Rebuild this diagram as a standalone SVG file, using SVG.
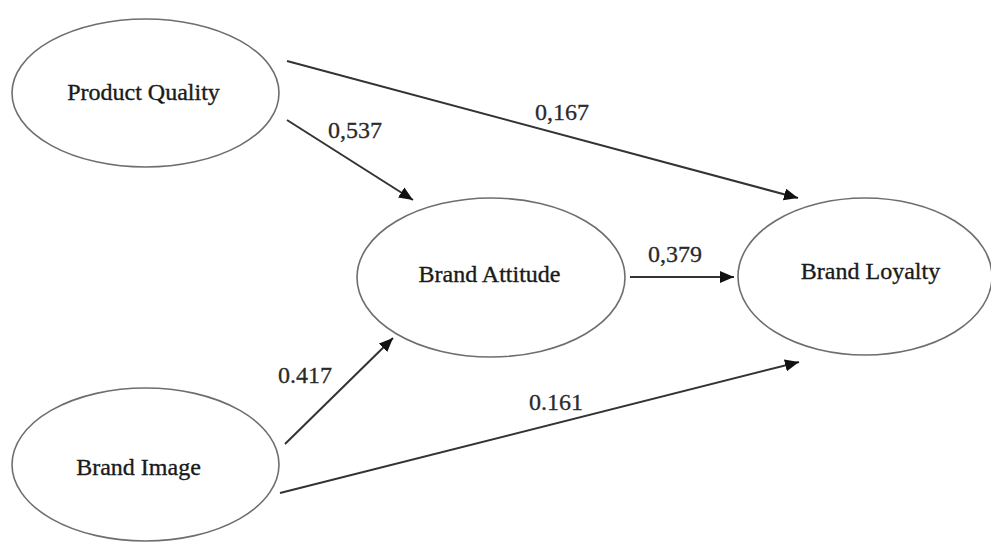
<svg xmlns="http://www.w3.org/2000/svg" width="991" height="544" viewBox="0 0 991 544">
<style>
.node ellipse{fill:#fff;stroke:#6e6e6e;stroke-width:1.6}
.node text{font-family:"Liberation Serif","Times New Roman",serif;font-size:24px;fill:#1a1a1a;stroke:#1a1a1a;stroke-width:0.35;text-anchor:middle}
.lbl{font-family:"Liberation Serif","Times New Roman",serif;font-size:24px;fill:#2a2a2a;stroke:#2a2a2a;stroke-width:0.3}
.edge{stroke:#333;stroke-width:2;fill:none;marker-end:url(#arr)}
</style>
<defs>
<marker id="arr" markerUnits="userSpaceOnUse" markerWidth="15" markerHeight="13" refX="14" refY="6" orient="auto">
<path d="M0,0 L14,6 L0,12 Z" fill="#111"/>
</marker>
</defs>
<rect width="991" height="544" fill="#fff"/>
<g id="product-quality" class="node">
<ellipse cx="145.5" cy="93" rx="133.5" ry="74"/>
<text x="143.5" y="100">Product Quality</text>
</g>
<g id="brand-attitude" class="node">
<ellipse cx="491" cy="277.5" rx="134" ry="79.5"/>
<text x="489.5" y="282">Brand Attitude</text>
</g>
<g id="brand-loyalty" class="node">
<ellipse cx="865" cy="276.5" rx="127" ry="78.5"/>
<text x="870.5" y="279">Brand Loyalty</text>
</g>
<g id="brand-image" class="node">
<ellipse cx="145.5" cy="464.5" rx="133.5" ry="76.5"/>
<text x="138.5" y="475">Brand Image</text>
</g>
<g id="connectors">
<line class="edge" x1="287" y1="61" x2="798" y2="198"/>
<line class="edge" x1="287" y1="120" x2="413" y2="200"/>
<line class="edge" x1="630" y1="277" x2="734" y2="277"/>
<line class="edge" x1="285" y1="444" x2="393" y2="338"/>
<line class="edge" x1="280" y1="493" x2="799" y2="362"/>
<text class="lbl" x="328" y="138">0,537</text>
<text class="lbl" x="535" y="120">0,167</text>
<text class="lbl" x="648" y="262">0,379</text>
<text class="lbl" x="278" y="383">0.417</text>
<text class="lbl" x="529" y="410">0.161</text>
</g>
</svg>
